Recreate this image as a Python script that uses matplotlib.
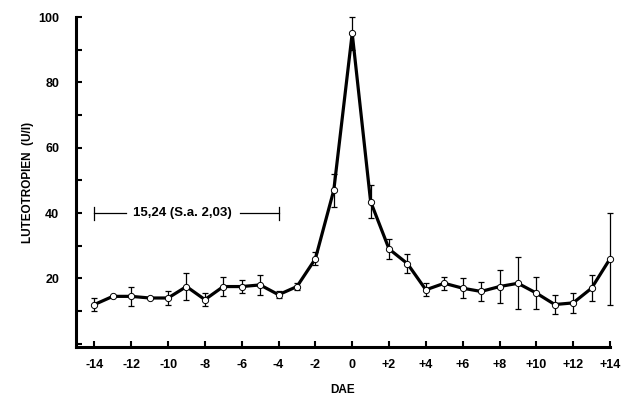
import matplotlib
matplotlib.use("Agg")
import matplotlib.pyplot as plt
from matplotlib.ticker import MultipleLocator

plt.rcParams['font.family'] = ['Liberation Sans', 'DejaVu Sans']
plt.rcParams['font.weight'] = 'bold'

# Days around ovulation (DAE) and luteotropin levels (U/l)
days = list(range(-14, 15))
lh_mean = [12, 14.5, 14.5, 14, 14, 17.5, 13.5, 17.5, 17.5, 18, 15, 17.5, 26, 47,
           95, 43.5, 29, 24.5, 16.5, 18.5, 17, 16, 17.5, 18.5, 15.5, 12, 12.5, 17, 26]
lh_err = [2, 0, 3, 0, 2, 4, 2, 3, 2, 3, 1, 1, 2, 5,
          5, 5, 3, 3, 2, 2, 3, 3, 5, 8, 5, 3, 3, 4, 14]

tick_days = list(range(-14, 15, 2))
tick_labels = [str(d) if d <= 0 else f"+{d}" for d in tick_days]

basal_mean = 40  # y position of the basal-level bracket
basal_span = (-14, -4)
basal_text = "15,24 (S.a. 2,03)"

fig = plt.figure(figsize=(6.21, 4.0), dpi=100)
ax = fig.add_axes([76 / 621, 1 - 347 / 400, 534 / 621, 330 / 400])

ax.errorbar(days, lh_mean, yerr=lh_err, fmt='none', ecolor='black',
            elinewidth=0.9, capsize=2.5, capthick=0.9, clip_on=False, zorder=2)
ax.plot(days, lh_mean, color='black', linewidth=2.3, zorder=3, clip_on=False)
ax.plot(days, lh_mean, linestyle='none', marker='o', markersize=4.5,
        markerfacecolor='white', markeredgecolor='black', markeredgewidth=0.7,
        zorder=4, clip_on=False)

# basal level bracket
x0, x1 = basal_span
ax.plot([x0, -12.3], [basal_mean, basal_mean], color='black', linewidth=0.9)
ax.plot([-6.1, x1], [basal_mean, basal_mean], color='black', linewidth=0.9)
ax.plot([x0, x0], [basal_mean - 2, basal_mean + 2], color='black', linewidth=0.9)
ax.plot([x1, x1], [basal_mean - 2, basal_mean + 2], color='black', linewidth=0.9)
ax.text(-9.2, basal_mean, basal_text, ha='center', va='center', fontsize=9.5,
        fontweight='bold')

ax.set_xlim(-15, 14)
ax.set_ylim(-1, 100)
ax.set_xticks(tick_days)
ax.set_xticklabels(tick_labels)
ax.set_yticks([20, 40, 60, 80, 100])
ax.yaxis.set_minor_locator(MultipleLocator(10))

for s in ['top', 'right']:
    ax.spines[s].set_visible(False)
for s in ['left', 'bottom']:
    ax.spines[s].set_linewidth(2.2)

ax.tick_params(axis='x', direction='in', length=4, width=1.5, pad=9, labelsize=9)
ax.tick_params(axis='y', which='major', direction='in', length=4, width=1.5,
               pad=12, labelsize=9)
ax.tick_params(axis='y', which='minor', direction='in', length=4, width=1.5)

ax.set_ylabel("LUTEOTROPIEN  (U/l)", fontsize=8.5, fontweight='bold', labelpad=3)
ax.set_xlabel("DAE", fontsize=8.5, fontweight='bold', labelpad=9)

fig.savefig("out.png", dpi=100)
